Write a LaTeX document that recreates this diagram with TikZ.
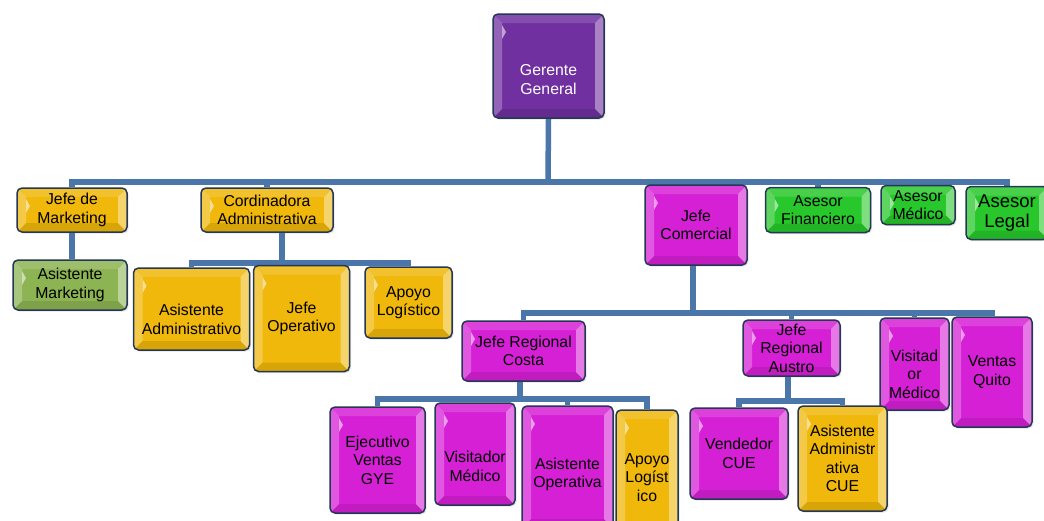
\documentclass[tikz,border=0pt]{standalone}
\usepackage{fontspec}
\setmainfont{Liberation Sans}
\usetikzlibrary{calc,backgrounds,shadows}

\definecolor{gold}{RGB}{240,184,10}
\definecolor{magen}{RGB}{214,32,214}
\definecolor{grn}{RGB}{40,200,44}
\definecolor{olive}{RGB}{141,180,82}
\definecolor{purp}{RGB}{112,48,160}
\definecolor{edgecol}{RGB}{36,56,86}
\definecolor{conn}{RGB}{74,118,170}

\newcommand\lbl{\fontsize{15.8}{18.5}\selectfont}
\newcommand\biglbl{\fontsize{18.5}{20}\selectfont}
% taller first line pushes the text block down inside its box
\newcommand\dropby[1]{\rule{0pt}{#1}}

\tikzset{
  orgbox/.style={
    draw=edgecol, line width=1.5pt, rounded corners=5pt, fill=#1,
    align=center, inner sep=1pt, font=\lbl, text=black,
    drop shadow={opacity=0.22, shadow xshift=1.5pt, shadow yshift=-1.5pt},
    path picture={
      \coordinate (ppA) at (path picture bounding box.south west);
      \coordinate (ppC) at (path picture bounding box.north east);
      \coordinate (ppB) at (ppA -| ppC);
      \coordinate (ppD) at (ppA |- ppC);
      \coordinate (ppa) at ($(ppA)+(9pt,9pt)$);
      \coordinate (ppb) at ($(ppB)+(-9pt,9pt)$);
      \coordinate (ppc) at ($(ppC)+(-9pt,-9pt)$);
      \coordinate (ppd) at ($(ppD)+(9pt,-9pt)$);
      \begin{scope}[sharp corners]
        \fill[white,opacity=0.25] (ppA) -- (ppa) -- (ppd) -- (ppD) -- cycle;
        \fill[white,opacity=0.15] (ppD) -- (ppd) -- (ppc) -- (ppC) -- cycle;
        \fill[white,opacity=0.40] (ppC) -- (ppc) -- (ppb) -- (ppB) -- cycle;
        \fill[black,opacity=0.10] (ppA) -- (ppB) -- (ppb) -- (ppa) -- cycle;
        \fill[white,opacity=0.55] ($(ppd)+(0,-2pt)$) -- ($(ppd)+(4pt,-9pt)$) -- ($(ppd)+(0,-16pt)$) -- cycle;
      \end{scope}
    }},
  link/.style={draw=conn, line width=5.5pt}
}

\begin{document}
\begin{tikzpicture}[x=1pt,y=-1pt]
\useasboundingbox (0,0) rectangle (1044,520);

% top level
\node[orgbox=purp, text=white, minimum width=111pt, minimum height=104pt] (gg) at (548.5,66) {\dropby{38pt}Gerente\\General};

% first level
\node[orgbox=gold, minimum width=110pt, minimum height=44pt] (mk) at (72,210) {Jefe de\\Marketing};
\node[orgbox=gold, minimum width=132pt, minimum height=44pt] (cd) at (267,210) {Cordinadora\\Administrativa};
\node[orgbox=magen, minimum width=102pt, minimum height=80pt] (jc) at (696,225) {Jefe\\Comercial};
\node[orgbox=grn, minimum width=105pt, minimum height=45pt] (af) at (818,210) {Asesor\\Financiero};
\node[orgbox=grn, minimum width=74pt, minimum height=39pt] (am) at (918,205) {Asesor\\Médico};
\node[orgbox=grn, font=\biglbl, minimum width=82pt, minimum height=53pt] (al) at (1007,213) {Asesor\\Legal};

% under marketing and administration
\node[orgbox=olive, minimum width=114pt, minimum height=50pt] (asm) at (70,285) {Asistente\\Marketing};
\node[orgbox=gold, minimum width=116pt, minimum height=82pt] (aa) at (191.5,309) {\dropby{32pt}Asistente\\Administrativo};
\node[orgbox=gold, minimum width=96pt, minimum height=106pt] (jo) at (301.5,318.5) {Jefe\\Operativo};
\node[orgbox=gold, minimum width=87pt, minimum height=71pt] (alg) at (408.5,302.5) {Apoyo\\Logístico};

% under commercial
\node[orgbox=magen, minimum width=123pt, minimum height=60pt] (jrc) at (523.5,351) {Jefe Regional\\Costa};
\node[orgbox=magen, minimum width=97pt, minimum height=56pt] (jra) at (791.5,348) {Jefe\\Regional\\Austro};
\node[orgbox=magen, minimum width=69pt, minimum height=92pt] (vm2) at (914.5,364) {\dropby{32pt}Visitad\\or\\Médico};
\node[orgbox=magen, minimum width=80pt, minimum height=110pt] (vq) at (992,372) {Ventas\\Quito};

% coast region
\node[orgbox=magen, minimum width=95pt, minimum height=106pt] (evg) at (377.5,460) {Ejecutivo\\Ventas\\GYE};
\node[orgbox=magen, minimum width=80pt, minimum height=102pt] (vm1) at (475,454) {\dropby{36pt}Visitador\\Médico};
\node[orgbox=magen, minimum width=91pt, minimum height=122pt] (ao) at (567.5,467) {\dropby{26pt}Asistente\\Operativa};
\node[orgbox=gold, minimum width=62pt, minimum height=120pt] (alc) at (647,470) {\dropby{26pt}Apoyo\\Logíst\\ico};

% austral region
\node[orgbox=magen, minimum width=98pt, minimum height=91pt] (vcue) at (739,453.5) {Vendedor\\CUE};
\node[orgbox=gold, minimum width=89pt, minimum height=105pt] (aacue) at (842.5,458.5) {Asistente\\Administr\\ativa\\CUE};

% junction points of the connector bars
\coordinate (t1) at (548,182);
\coordinate (t2) at (282,263);
\coordinate (t3) at (693,313);
\coordinate (t4) at (520,399);
\coordinate (t5) at (788,401);

\begin{pgfonlayer}{background}
  \draw[link] (gg.south) -- (t1);
  \draw[link] (mk.north) |- (t1) -| (al.north);
  \foreach \n in {cd,jc,af,am} \draw[link] (\n.north) -- (\n.north |- t1);
  \draw[link] (mk.south) -- (mk.south |- asm.north);

  \draw[link] (t2 |- cd.south) -- (t2);
  \draw[link] (aa.north) |- (t2) -| (alg.north);
  \draw[link] (jo.north) -- (jo.north |- t2);

  \draw[link] (t3 |- jc.south) -- (t3);
  \draw[link] (jrc.north) |- (t3) -| (vq.north);
  \foreach \n in {jra,vm2} \draw[link] (\n.north) -- (\n.north |- t3);

  \draw[link] (t4 |- jrc.south) -- (t4);
  \draw[link] (evg.north) |- (t4) -| (alc.north);
  \foreach \n in {vm1,ao} \draw[link] (\n.north) -- (\n.north |- t4);

  \draw[link] (t5 |- jra.south) -- (t5);
  \draw[link] (vcue.north) |- (t5) -| (aacue.north);
\end{pgfonlayer}
\end{tikzpicture}
\end{document}
